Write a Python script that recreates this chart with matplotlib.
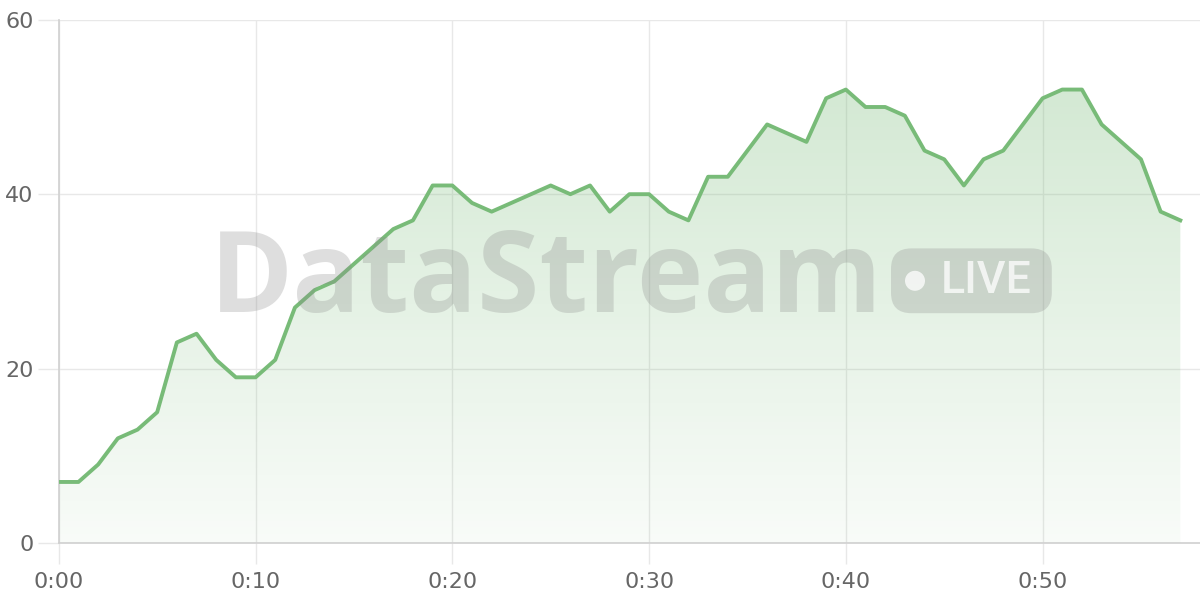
import matplotlib.pyplot as plt
import numpy as np
from matplotlib.colors import LinearSegmentedColormap
from matplotlib.patches import FancyBboxPatch, Ellipse

minutes = list(range(58))
values = [7, 7, 9, 12, 13, 15, 23, 24, 21, 19,
          19, 21, 27, 29, 30, 32, 34, 36, 37, 41,
          41, 39, 38, 39, 40, 41, 40, 41, 38, 40,
          40, 38, 37, 42, 42, 45, 48, 47, 46, 51,
          52, 50, 50, 49, 45, 44, 41, 44, 45, 48,
          51, 52, 52, 48, 46, 44, 38, 37]
xticks = [0, 10, 20, 30, 40, 50]
xlabels = ['0:00', '0:10', '0:20', '0:30', '0:40', '0:50']
yticks = [0, 20, 40, 60]

lineColor = '#78bb78'

fig = plt.figure(figsize=(12, 6), dpi=100)
ax = fig.add_axes([0.049, 0.095, 0.951, 0.872])
ax.set_xlim(0, 58)
ax.set_ylim(0, 60)

# gradient fill under the line
fill = ax.fill_between(minutes, values, 0, color='none', lw=0)
cmap = LinearSegmentedColormap.from_list('g', [(0.47, 0.73, 0.47, 0.05), (0.47, 0.73, 0.47, 0.32)])
grad = np.linspace(0, 1, 256).reshape(-1, 1)
img = ax.imshow(grad, cmap=cmap, origin='lower', aspect='auto',
                extent=[0, 58, 0, max(values)], zorder=1)
img.set_clip_path(fill.get_paths()[0], transform=ax.transData)
ax.plot(minutes, values, color=lineColor, lw=2.8, zorder=3)

ax.set_xticks(xticks)
ax.set_xticklabels(xlabels)
ax.set_yticks(yticks)
ax.grid(True, color='#e8e8e8', lw=1)
ax.set_axisbelow(True)
for side in ['top', 'right']:
    ax.spines[side].set_visible(False)
for side in ['left', 'bottom']:
    ax.spines[side].set_color('#d0d0d0')
    ax.spines[side].set_linewidth(1.2)
ax.tick_params(axis='both', colors='#e8e8e8', length=15, width=1,
               labelcolor='#666666', labelsize=16)
ax.tick_params(axis='x', pad=6)
ax.tick_params(axis='y', pad=3)

# watermark
wmColor = '#8a8a8a'
wmAlpha = 0.28
fig.text(0.175, 0.48, 'DataStream', fontsize=81, fontweight='bold', family='Open Sans',
         color=wmColor, alpha=wmAlpha, ha='left', va='baseline', zorder=10)
badge = FancyBboxPatch((0.7425, 0.478), 0.134, 0.108,
                       boxstyle='round,pad=0,rounding_size=0.017',
                       transform=fig.transFigure, facecolor=wmColor, alpha=wmAlpha,
                       edgecolor='none', zorder=10, mutation_aspect=2)
fig.patches.append(badge)
dot = Ellipse((0.7625, 0.532), 20 / 1200, 20 / 600, transform=fig.transFigure,
              facecolor='white', alpha=0.75, edgecolor='none', zorder=11)
fig.patches.append(dot)
fig.text(0.822, 0.532, 'LIVE', fontsize=32, fontweight='medium', family='Roboto',
         color='white', alpha=0.75, ha='center', va='center', zorder=11)

fig.savefig('out.png')
